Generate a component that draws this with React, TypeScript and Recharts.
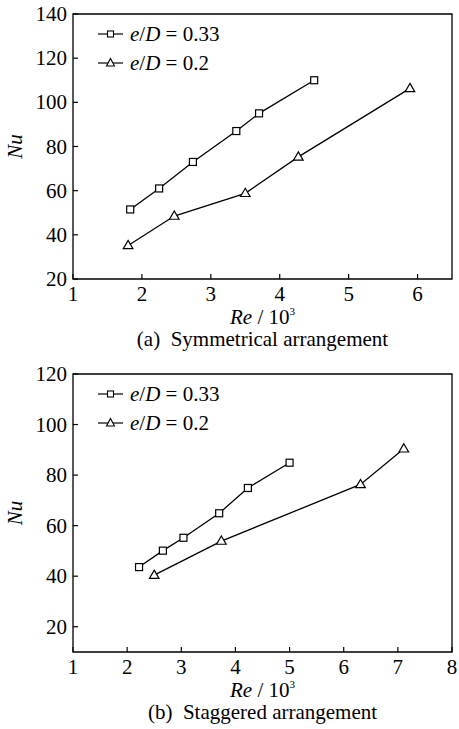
import { LineChart, Line, XAxis, YAxis, ReferenceArea, Legend } from "recharts";

const FONT = '"Liberation Serif", "Times New Roman", serif';

// (a) Symmetrical arrangement
const reA033 = [1.83, 2.25, 2.74, 3.37, 3.7, 4.5];
const nuA033 = [51.5, 61, 73, 87, 95, 110];
const reA02 = [1.8, 2.47, 3.5, 4.27, 5.89];
const nuA02 = [35.2, 48.5, 58.8, 75.3, 106.3];

// (b) Staggered arrangement
const reB033 = [2.22, 2.66, 3.04, 3.7, 4.23, 5.0];
const nuB033 = [43.6, 50.1, 55.2, 64.9, 74.9, 84.9];
const reB02 = [2.5, 3.74, 6.31, 7.11];
const nuB02 = [40.4, 53.9, 76.3, 90.4];

const xTicksA = [1, 2, 3, 4, 5, 6];
const yTicksA = [20, 40, 60, 80, 100, 120, 140];
const xTicksB = [1, 2, 3, 4, 5, 6, 7, 8];
const yTicksB = [20, 40, 60, 80, 100, 120];

const labels033 = "0.33";
const labels02 = "0.2";

const toPoints = (xs: number[], ys: number[]) =>
  xs.map((x, i) => ({ x, y: ys[i] }));

const txt = { fontFamily: FONT, fontSize: 21, fill: "#000" };

const Square = (props: any) => {
  const { cx, cy, index } = props;
  if (cx == null || cy == null) return null;
  return (
    <rect
      key={index}
      x={cx - 3.5}
      y={cy - 3.5}
      width={7}
      height={7}
      fill="#fff"
      stroke="#000"
      strokeWidth={1.2}
    />
  );
};

const Triangle = (props: any) => {
  const { cx, cy, index } = props;
  if (cx == null || cy == null) return null;
  return (
    <polygon
      key={index}
      points={`${cx},${cy - 5} ${cx + 4.8},${cy + 3.2} ${cx - 4.8},${cy + 3.2}`}
      fill="#fff"
      stroke="#000"
      strokeWidth={1.2}
    />
  );
};

const XTick = (props: any) => {
  const { x, y, payload } = props;
  return (
    <g>
      <line x1={x} x2={x} y1={y} y2={y - 5} stroke="#000" strokeWidth={1.2} />
      <text x={x} y={y + 22} textAnchor="middle" style={txt}>
        {payload.value}
      </text>
    </g>
  );
};

const YTick = (props: any) => {
  const { x, y, payload } = props;
  return (
    <g>
      <line x1={x} x2={x + 5} y1={y} y2={y} stroke="#000" strokeWidth={1.2} />
      <text x={x - 6} y={y + 7} textAnchor="end" style={txt}>
        {payload.value}
      </text>
    </g>
  );
};

const LegendBox = () => (
  <div style={{ fontFamily: FONT, fontSize: 21, color: "#000" }}>
    {[
      { v: labels033, m: "sq" },
      { v: labels02, m: "tri" },
    ].map((r) => (
      <div
        key={r.v}
        style={{ display: "flex", alignItems: "center", height: 29 }}
      >
        <svg width={32} height={14} style={{ display: "block" }}>
          <line x1={0} x2={25} y1={7} y2={7} stroke="#000" strokeWidth={1.2} />
          {r.m === "sq" ? (
            <rect x={9.5} y={4} width={6} height={6} fill="#fff" stroke="#000" strokeWidth={1.1} />
          ) : (
            <polygon points="12.5,2.5 16.5,10 8.5,10" fill="#fff" stroke="#000" strokeWidth={1.1} />
          )}
        </svg>
        <span style={{ whiteSpace: "nowrap" }}>
          <i>e</i>/<i>D</i> = {r.v}
        </span>
      </div>
    ))}
  </div>
);

function Panel({
  top,
  height,
  plotTop,
  plotBottom,
  xDomain,
  yDomain,
  xTicks,
  yTicks,
  s033,
  s02,
  caption,
}: any) {
  const xAxisH = 30;
  const renderXLabel = (p: any) => {
    const vb = p.viewBox;
    const cx = vb.x + vb.width / 2;
    return (
      <g>
        <text x={cx} y={vb.y + 45} textAnchor="middle" style={txt}>
          <tspan style={{ fontStyle: "italic" }}>Re</tspan>
          <tspan> / 10</tspan>
          <tspan dy={-9} style={{ fontSize: 11 }}>3</tspan>
        </text>
        <text x={cx} y={vb.y + 67} textAnchor="middle" style={txt}>
          {caption}
        </text>
      </g>
    );
  };
  const renderYLabel = (p: any) => {
    const vb = p.viewBox;
    const cy = vb.y + vb.height / 2;
    return (
      <text
        x={22}
        y={cy}
        transform={`rotate(-90, 22, ${cy})`}
        textAnchor="middle"
        style={{ ...txt, fontStyle: "italic" }}
      >
        Nu
      </text>
    );
  };
  return (
    <div style={{ position: "absolute", left: 0, top }}>
      <LineChart
        width={459}
        height={height}
        margin={{
          top: plotTop,
          right: 7,
          left: 13,
          bottom: height - plotBottom - xAxisH,
        }}
      >
        <XAxis
          type="number"
          dataKey="x"
          domain={xDomain}
          ticks={xTicks}
          allowDataOverflow
          axisLine={false}
          tickLine={false}
          tickSize={0}
          tickMargin={0}
          height={xAxisH}
          interval={0}
          tick={<XTick />}
          label={renderXLabel}
        />
        <YAxis
          type="number"
          domain={yDomain}
          ticks={yTicks}
          allowDataOverflow
          axisLine={false}
          tickLine={false}
          tickSize={0}
          tickMargin={0}
          width={60}
          interval={0}
          tick={<YTick />}
          label={renderYLabel}
        />
        <ReferenceArea
          x1={xDomain[0]}
          x2={xDomain[1]}
          y1={yDomain[0]}
          y2={yDomain[1]}
          fill="none"
          fillOpacity={0}
          stroke="#000"
          strokeWidth={1.3}
        />
        <Line
          data={s033}
          dataKey="y"
          name="e/D = 0.33"
          stroke="#000"
          strokeWidth={1.3}
          dot={Square}
          activeDot={false}
          isAnimationActive={false}
        />
        <Line
          data={s02}
          dataKey="y"
          name="e/D = 0.2"
          stroke="#000"
          strokeWidth={1.3}
          dot={Triangle}
          activeDot={false}
          isAnimationActive={false}
        />
        <Legend
          layout="vertical"
          align="center"
          verticalAlign="middle"
          content={<LegendBox />}
          wrapperStyle={{
            position: "absolute",
            left: 98,
            top: plotTop + 20 - 14.5,
            width: "auto",
          }}
        />
      </LineChart>
    </div>
  );
}

export default function App() {
  return (
    <div
      style={{
        position: "absolute",
        left: 0,
        top: 0,
        width: 459,
        height: 729,
        background: "#fff",
      }}
    >
      <Panel
        top={0}
        height={352}
        plotTop={14}
        plotBottom={279}
        xDomain={[1, 6.5]}
        yDomain={[20, 140]}
        xTicks={xTicksA}
        yTicks={yTicksA}
        s033={toPoints(reA033, nuA033)}
        s02={toPoints(reA02, nuA02)}
        caption={"(a)\u00a0 Symmetrical arrangement"}
      />
      <Panel
        top={340}
        height={389}
        plotTop={34}
        plotBottom={312}
        xDomain={[1, 8]}
        yDomain={[10, 120]}
        xTicks={xTicksB}
        yTicks={yTicksB}
        s033={toPoints(reB033, nuB033)}
        s02={toPoints(reB02, nuB02)}
        caption={"(b)\u00a0 Staggered arrangement"}
      />
    </div>
  );
}
